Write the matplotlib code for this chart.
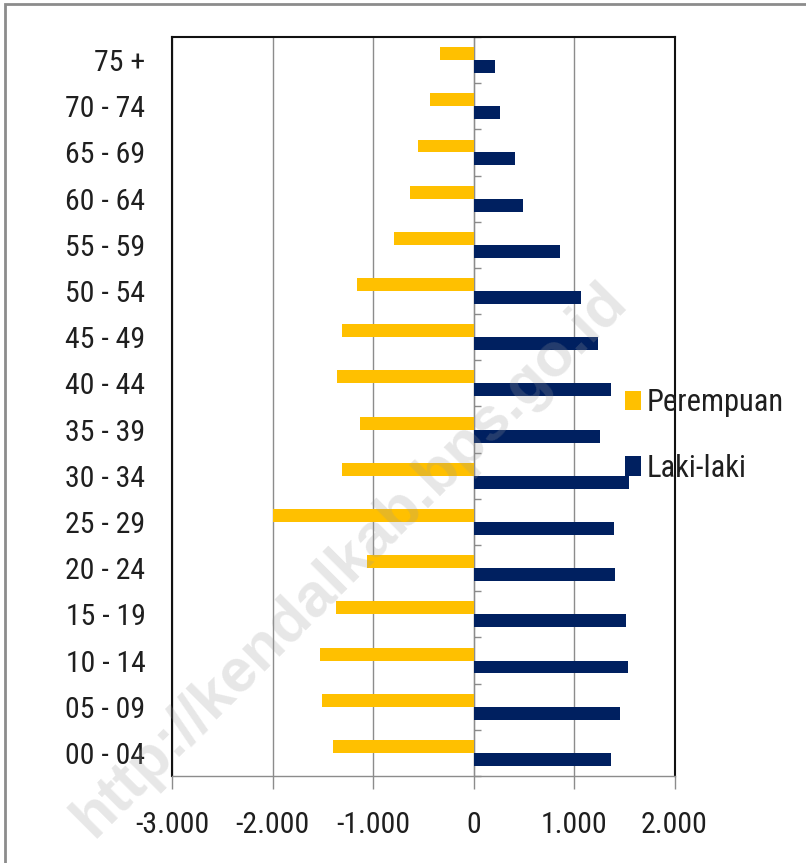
import numpy as np
import matplotlib
matplotlib.use("Agg")
import matplotlib.pyplot as plt
from matplotlib import font_manager
from matplotlib.ticker import FuncFormatter
from matplotlib.patches import Rectangle

# kelompok umur (bawah ke atas)
umur = ['00 - 04', '05 - 09', '10 - 14', '15 - 19', '20 - 24', '25 - 29', '30 - 34', '35 - 39',
        '40 - 44', '45 - 49', '50 - 54', '55 - 59', '60 - 64', '65 - 69', '70 - 74', '75 +']
perempuan = [-1397, -1509, -1529, -1371, -1059, -1995, -1304, -1125,
             -1355, -1304, -1161, -788, -634, -552, -430, -332]
laki_laki = [1371, 1453, 1535, 1519, 1407, 1397, 1545, 1259,
             1371, 1243, 1069, 865, 496, 415, 266, 215]
xticks = [-3000, -2000, -1000, 0, 1000, 2000]

# pick a narrow font if we have one
names = {f.name for f in font_manager.fontManager.ttflist}
font = 'DejaVu Sans'
for cand in ['Liberation Sans Narrow', 'Roboto Condensed', 'Open Sans Condensed', 'Liberation Sans']:
    if cand in names:
        font = cand
        break
plt.rcParams['font.family'] = [font, 'DejaVu Sans']

W, H = 806, 863
fig = plt.figure(figsize=(W / 100, H / 100), dpi=100)
ax = fig.add_axes([172 / W, 1 - 776 / H, 502.5 / W, 739 / H])

y = np.arange(len(umur))
ax.barh(y + 0.14, perempuan, height=0.28, color='#FFC000', label='Perempuan', zorder=3)
ax.barh(y - 0.14, laki_laki, height=0.28, color='#002060', label='Laki-laki', zorder=3)

ax.set_xlim(-3000, 2000)
ax.set_ylim(-0.5, len(umur) - 0.5)
ax.set_xticks(xticks)
ax.xaxis.set_major_formatter(FuncFormatter(lambda v, p: f"{v:,.0f}".replace(',', '.')))
ax.grid(axis='x', color='#8c8c8c', linewidth=1, zorder=0)
ax.tick_params(axis='x', direction='out', length=9.5, width=1, color='#8c8c8c',
               labelsize=21.5, pad=16, labelcolor='#1f1f1f')
ax.set_yticks(y)
ax.set_yticklabels(umur)
ax.tick_params(axis='y', length=0, labelsize=21.5, pad=19, labelcolor='#1f1f1f')

for s in ['top', 'left', 'right']:
    ax.spines[s].set_color('#111111')
    ax.spines[s].set_linewidth(1.5)
ax.spines['bottom'].set_color('#8c8c8c')
ax.spines['bottom'].set_linewidth(1)

# sumbu kategori di x = 0
sec = ax.secondary_yaxis(3000 / 5000)
sec.set_yticks(np.arange(-0.5, len(umur), 1.0))
sec.set_yticklabels([])
sec.tick_params(direction='out', length=5, width=1, color='#8c8c8c')
sec.spines['left'].set_color('#8c8c8c')
sec.spines['left'].set_linewidth(1)

fig.legend(loc='center left', bbox_to_anchor=(625 / W, 1 - 435.5 / H), frameon=False,
           fontsize=22, handlelength=0.52, handleheight=0.62, handletextpad=0.2,
           labelspacing=1.2, borderpad=0, borderaxespad=0, labelcolor='#1f1f1f')

# bingkai abu-abu
fig.patches.append(Rectangle((4.5 / W, -0.2), 1.2, 1.2 - 4.5 / H, transform=fig.transFigure,
                             fill=False, edgecolor='#8c8c8c', linewidth=2))

# watermark
fig.text(350 / W, 1 - 560 / H, 'http://kendalkab.bps.go.id', rotation=45, rotation_mode='anchor',
         ha='center', va='center', fontsize=44, fontweight='bold', family='Liberation Sans',
         color='#9a9a9a', alpha=0.24, zorder=10)

fig.savefig('out.png', dpi=100)
